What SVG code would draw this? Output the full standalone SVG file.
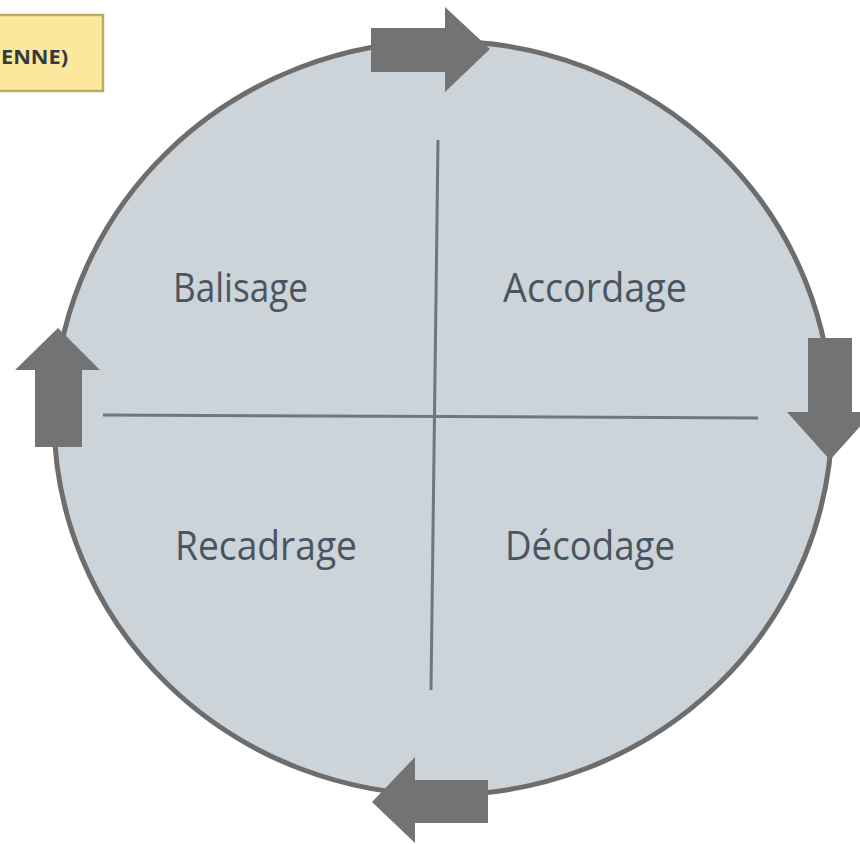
<svg xmlns="http://www.w3.org/2000/svg" width="860" height="844" viewBox="0 0 860 844">
<style>
.lbl{font-family:"Open Sans","Liberation Sans",sans-serif;font-size:40px;fill:#4a5562}
.div{stroke:#6f777d;stroke-width:3;fill:none}
.arr{fill:#737373}
</style>
<rect width="860" height="844" fill="#ffffff"/>
<g id="title">
<rect x="-10" y="15" width="113" height="76" fill="#fbe89c" stroke="#b9ab6a" stroke-width="2.5"/>
<text x="1" y="64" font-family="'Open Sans','Liberation Sans',sans-serif" font-weight="bold" font-size="20" fill="#333a40" textLength="67" lengthAdjust="spacingAndGlyphs">ENNE)</text>
</g>
<g id="cycle">
<ellipse cx="443" cy="418" rx="389" ry="377" fill="#ccd3d9" stroke="#6d6d6d" stroke-width="5"/>
</g>
<g id="connectors">
<line class="div" x1="438" y1="140" x2="431" y2="690"/>
<line class="div" x1="103" y1="415" x2="758" y2="418"/>
<polygon class="arr" points="371,28 445,28 445,7 490,49 445,92 445,72 371,72"/>
<polygon class="arr" points="808,338 852,338 852,412 873,412 830,460 787,412 808,412"/>
<polygon class="arr" points="35,447 35,370 15,370 58,328 100,370 82,370 82,447"/>
<polygon class="arr" points="488,780 415,780 415,757 372,802 415,843 415,823 488,823"/>
</g>
<g id="balisage"><text class="lbl" x="173" y="302" textLength="135" lengthAdjust="spacingAndGlyphs">Balisage</text></g>
<g id="accordage"><text class="lbl" x="503" y="302" textLength="184" lengthAdjust="spacingAndGlyphs">Accordage</text></g>
<g id="recadrage"><text class="lbl" x="175" y="560" textLength="182" lengthAdjust="spacingAndGlyphs">Recadrage</text></g>
<g id="decodage"><text class="lbl" x="505" y="560" textLength="170" lengthAdjust="spacingAndGlyphs">Décodage</text></g>
</svg>
